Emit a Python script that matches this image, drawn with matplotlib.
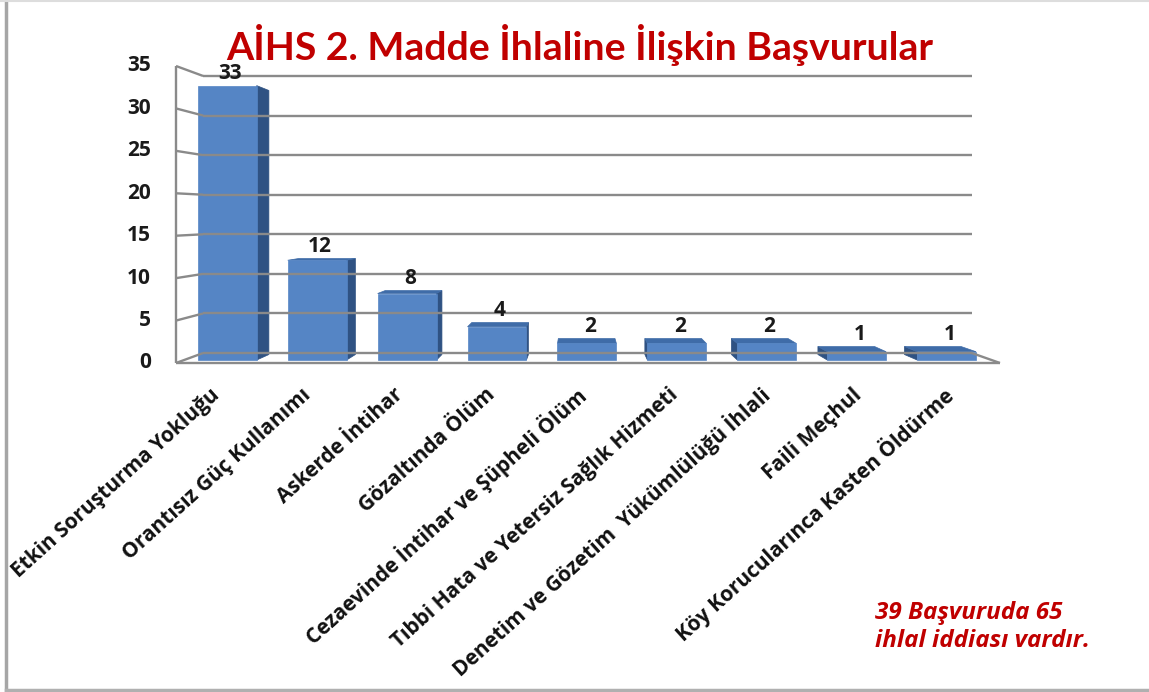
import matplotlib
matplotlib.use('Agg')
import matplotlib.pyplot as plt
from matplotlib.patches import Polygon
from matplotlib.lines import Line2D

categories = ["Etkin Soruşturma Yokluğu", "Orantısız Güç Kullanımı", "Askerde İntihar",
              "Gözaltında Ölüm", "Cezaevinde İntihar ve Şüpheli Ölüm",
              "Tıbbi Hata ve Yetersiz Sağlık Hizmeti",
              "Denetim ve Gözetim  Yükümlülüğü İhlali", "Faili Meçhul",
              "Köy Korucularınca Kasten Öldürme"]
values = [33, 12, 8, 4, 2, 2, 2, 1, 1]
y_ticks = [0, 5, 10, 15, 20, 25, 30, 35]
title = "AİHS 2. Madde İhlaline İlişkin Başvurular"
note = "39 Başvuruda 65\nihlal iddiası vardır."

plt.rcParams['font.family'] = ['Open Sans', 'DejaVu Sans']
LATO = ['Lato', 'DejaVu Sans']

W, H = 1149, 692
fig = plt.figure(figsize=(W / 100, H / 100), dpi=100)
ax = fig.add_axes([176 / W, 1 - 363 / H, (1000 - 176) / W, (363 - 66) / H])
X0, X1 = -0.48, 8.5
ax.set_xlim(X0, X1)
ax.set_ylim(0, 35)
ax.axis('off')

# pseudo-3D perspective: scale about a vanishing point (data units)
CX, CY = 3.92, 17.5
S_WALL, S_BF, S_BB = 0.933, 0.98, 0.943
BAR_W = 0.655


def proj(x, v, s):
    return (CX + s * (x - CX), CY + s * (v - CY))


GRID = '#8a8a8a'
LW = 1.7


def seg(p, q, **kw):
    ax.add_line(Line2D([p[0], q[0]], [p[1], q[1]], color=GRID, lw=LW,
                       clip_on=False, solid_capstyle='butt', **kw))


# walls and gridlines
for t in y_ticks:
    seg(proj(X0, t, S_WALL), proj(X1, t, S_WALL))
    seg((X0, t), proj(X0, t, S_WALL))
seg((X0, 0), (X0, y_ticks[-1]))
seg((X0, 0), (X1, 0))
seg((X1, 0), proj(X1, 0, S_WALL))

# tick labels
for t in y_ticks:
    ax.annotate(str(t), xy=(X0, t), xytext=(-18, 0), textcoords='offset points',
                ha='right', va='center', fontsize=15, fontweight='bold',
                color='#1a1a1a', annotation_clip=False)

FRONT = '#5585c5'
SIDE = '#2f5283'
TOP = '#3f6ca8'

for i, v in enumerate(values):
    xl, xr = i - BAR_W / 2, i + BAR_W / 2
    # side face
    if xr < CX:
        xs = xr
    elif xl > CX:
        xs = xl
    else:
        xs = None
    if xs is not None:
        pts = [proj(xs, 0, S_BF), proj(xs, v, S_BF), proj(xs, v, S_BB), proj(xs, 0, S_BB)]
        ax.add_patch(Polygon(pts, closed=True, facecolor=SIDE, edgecolor=SIDE,
                             lw=0.5, clip_on=False))
    if v < CY:
        pts = [proj(xl, v, S_BF), proj(xr, v, S_BF), proj(xr, v, S_BB), proj(xl, v, S_BB)]
        ax.add_patch(Polygon(pts, closed=True, facecolor=TOP, edgecolor=TOP,
                             lw=0.5, clip_on=False))
    pts = [proj(xl, 0, S_BF), proj(xr, 0, S_BF), proj(xr, v, S_BF), proj(xl, v, S_BF)]
    ax.add_patch(Polygon(pts, closed=True, facecolor=FRONT, edgecolor=FRONT,
                         lw=0.5, clip_on=False))
    # value label
    top_y = max(proj(i, v, S_BF)[1], proj(i, v, S_BB)[1])
    lx = proj(i, v, S_BF)[0]
    ax.annotate(str(v), xy=(lx, top_y), xytext=(2, 1), textcoords='offset points',
                ha='center', va='bottom', fontsize=15, fontweight='bold',
                color='#1a1a1a', annotation_clip=False)
    # category label
    ax.annotate(categories[i], xy=(i, 0), xytext=(-2.5, -21), textcoords='offset points',
                ha='right', va='center', rotation=42, rotation_mode='anchor',
                fontsize=15, fontweight='bold', color='#111111',
                annotation_clip=False)

fig.text(580 / W, 1 - 45 / H, title, ha='center', va='center', fontsize=28.3,
         fontweight='bold', color='#c00000', family=LATO)
fig.text(875 / W, 1 - 627 / H, note, ha='left', va='center', fontsize=17.5,
         fontweight='bold', style='italic', color='#c00000', linespacing=1.2)

# frame
fig.add_artist(Line2D([6 / W, 6 / W], [1 - 690 / H, 1], transform=fig.transFigure,
                      color='#a6a6a6', lw=2.5))
fig.add_artist(Line2D([6 / W, 1], [1 - 690 / H, 1 - 690 / H], transform=fig.transFigure,
                      color='#b0b0b0', lw=2.5))
fig.add_artist(Line2D([0, 1], [1 - 1 / H, 1 - 1 / H], transform=fig.transFigure,
                      color='#dddddd', lw=1.5))

fig.savefig('out.png', dpi=100)
